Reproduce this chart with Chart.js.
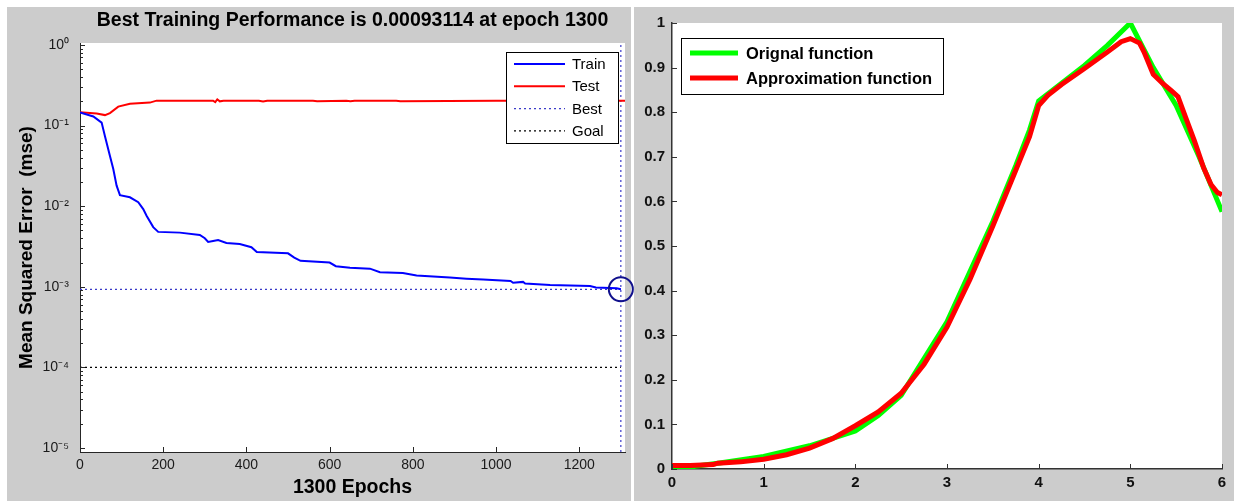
<!DOCTYPE html>
<html lang="en">
<head>
<meta charset="UTF-8">
<title>Training performance and function approximation</title>
<script src="https://cdn.jsdelivr.net/npm/chart.js"></script>
<style>
  body { margin: 0; background: #fff; width: 1234px; height: 501px; position: relative; overflow: hidden; }
  .panel { position: absolute; top: 7px; height: 494px; background: #cccccc; }
  #leftPanel { left: 7px; width: 624px; }
  #rightPanel { left: 634px; width: 600px; }
  #perfChart { position: absolute; left: 7px; top: 7px; z-index: 2; }
</style>
</head>
<body>
<div class="panel" id="leftPanel"></div>
<div class="panel" id="rightPanel"><canvas id="fitChart" width="600" height="494"></canvas></div>
<canvas id="perfChart" width="628" height="494"></canvas>

<script>
// ---- left panel: training performance ----
const trainEpochs = [0, 32, 52, 60, 72, 80, 88, 96, 120, 140, 152, 160, 176, 188, 240, 288, 300, 308, 320, 332, 352, 384, 412, 425, 500, 515, 530, 600, 615, 649, 697, 721, 776, 809, 889, 929, 969, 1035, 1041, 1065, 1070, 1130, 1226, 1240, 1290, 1300];
const trainMse = [0.146, 0.130, 0.109, 0.074, 0.042, 0.029, 0.018, 0.0137, 0.0129, 0.0112, 0.0092, 0.0076, 0.0055, 0.0048, 0.0047, 0.0044, 0.0040, 0.0036, 0.0037, 0.0038, 0.0035, 0.0034, 0.0031, 0.0027, 0.0026, 0.0023, 0.0021, 0.0020, 0.0018, 0.00172, 0.00168, 0.00152, 0.00148, 0.00138, 0.00130, 0.00126, 0.00123, 0.00118, 0.00112, 0.00115, 0.00110, 0.00105, 0.00102, 0.00098, 0.00096, 0.00093114];

const testEpochs = [0, 40, 60, 72, 92, 120, 168, 184, 320, 325, 330, 336, 345, 430, 440, 450, 560, 570, 640, 650, 660, 760, 770, 1000, 1310];
const testMse = [0.146, 0.141, 0.135, 0.143, 0.172, 0.187, 0.193, 0.204, 0.204, 0.196, 0.212, 0.200, 0.204, 0.204, 0.199, 0.204, 0.204, 0.200, 0.204, 0.200, 0.204, 0.204, 0.200, 0.204, 0.204];

const bestEpoch = 1300;
const bestPerf = 0.00093114;
const goalPerf = 1e-4;

const epochMin = 0, epochMax = 1310;
const mseMin = Math.pow(10, -5.05), mseMax = Math.pow(10, 0.025);
const epochTicks = [0, 200, 400, 600, 800, 1000, 1200];
const epochTickLabels = ['0', '200', '400', '600', '800', '1000', '1200'];
const mseTicks = [1e-5, 1e-4, 1e-3, 1e-2, 1e-1, 1];
const mseTickLabels = ['10\u207B\u2075', '10\u207B\u2074', '10\u207B\u00B3', '10\u207B\u00B2', '10\u207B\u00B9', '10\u2070'];

// ---- right panel: original vs approximation ----
const origX = [0, 0.15, 0.25, 0.5, 1, 1.5, 2, 2.25, 2.5, 3, 3.5, 3.75, 3.9, 4, 4.25, 4.5, 4.75, 5, 5.25, 5.5, 5.75, 6];
const origY = [0, 0, 0.006, 0.013, 0.028, 0.052, 0.085, 0.12, 0.165, 0.33, 0.555, 0.68, 0.76, 0.825, 0.865, 0.905, 0.95, 1.0, 0.9, 0.815, 0.7, 0.577];

const approxX = [0, 0.2, 0.45, 0.5, 0.75, 1, 1.25, 1.5, 1.75, 2, 2.25, 2.5, 2.75, 3, 3.25, 3.5, 3.75, 3.9, 4, 4.1, 4.25, 4.5, 4.75, 4.9, 5, 5.1, 5.15, 5.25, 5.35, 5.45, 5.52, 5.6, 5.7, 5.8, 5.88, 5.95, 6];
const approxY = [0.008, 0.008, 0.010, 0.013, 0.016, 0.022, 0.032, 0.047, 0.068, 0.097, 0.128, 0.170, 0.235, 0.318, 0.425, 0.545, 0.670, 0.745, 0.815, 0.838, 0.862, 0.898, 0.935, 0.958, 0.965, 0.955, 0.935, 0.885, 0.865, 0.848, 0.835, 0.79, 0.735, 0.675, 0.638, 0.62, 0.615];

const fitXTicks = [0, 1, 2, 3, 4, 5, 6];
const fitXLabels = ['0', '1', '2', '3', '4', '5', '6'];
const fitYTicks = [0, 0.1, 0.2, 0.3, 0.4, 0.5, 0.6, 0.7, 0.8, 0.9, 1];
const fitYLabels = ['0', '0.1', '0.2', '0.3', '0.4', '0.5', '0.6', '0.7', '0.8', '0.9', '1'];

const zip = (xs, ys) => xs.map((x, i) => ({x: x, y: ys[i]}));

// white plot area on the grey figure
const plotBg = {
  id: 'plotBg',
  beforeDraw(chart) {
    const {ctx, chartArea: a} = chart;
    ctx.save();
    ctx.fillStyle = '#fff';
    ctx.fillRect(a.left, a.top, a.right - a.left, a.bottom - a.top);
    ctx.restore();
  }
};

// matlab style ticks pointing into the plot
const innerTicks = {
  id: 'innerTicks',
  afterDatasetsDraw(chart, args, o) {
    const {ctx} = chart;
    const xs = chart.scales.x, ys = chart.scales.y;
    ctx.save();
    ctx.strokeStyle = o.color;
    ctx.lineWidth = 1;
    ctx.beginPath();
    xs.ticks.forEach(t => {
      const px = Math.round(xs.getPixelForValue(t.value)) + 0.5;
      ctx.moveTo(px, xs.top); ctx.lineTo(px, xs.top - o.len);
    });
    ys.ticks.forEach(t => {
      const py = Math.round(ys.getPixelForValue(t.value)) + 0.5;
      ctx.moveTo(ys.right, py); ctx.lineTo(ys.right + o.len, py);
    });
    (o.minorY || []).forEach(v => {
      const py = Math.round(ys.getPixelForValue(v)) + 0.5;
      ctx.moveTo(ys.right, py); ctx.lineTo(ys.right + o.minorLen, py);
    });
    ctx.stroke();
    ctx.restore();
  }
};

// boxed legend inside the axes
const boxLegend = {
  id: 'boxLegend',
  afterDraw(chart, args, o) {
    const {ctx, chartArea: a} = chart;
    const x0 = a.left + o.x, y0 = a.top + o.y;
    ctx.save();
    ctx.fillStyle = '#fff';
    ctx.fillRect(x0, y0, o.w, o.h);
    ctx.strokeStyle = '#000';
    ctx.lineWidth = 1;
    ctx.strokeRect(x0 + 0.5, y0 + 0.5, o.w, o.h);
    ctx.font = o.font;
    ctx.textBaseline = 'middle';
    o.items.forEach((idx, i) => {
      const ds = chart.data.datasets[idx];
      const cy = y0 + o.first + i * o.step;
      ctx.strokeStyle = ds.borderColor;
      ctx.lineWidth = o.lineWidth || ds.borderWidth;
      ctx.setLineDash(ds.borderDash || []);
      ctx.beginPath();
      ctx.moveTo(x0 + o.lx0, cy); ctx.lineTo(x0 + o.lx1, cy);
      ctx.stroke();
      ctx.setLineDash([]);
      ctx.fillStyle = '#000';
      ctx.fillText(ds.label, x0 + o.tx, cy + 1);
    });
    ctx.restore();
  }
};

const minorLogTicks = [];
for (let d = -5; d < 0; d++) {
  for (let k = 2; k <= 9; k++) minorLogTicks.push(k * Math.pow(10, d));
}

const sansFont = 'Arial, "Liberation Sans", sans-serif';
const narrowFont = '"Liberation Sans Narrow", "Arial Narrow", Arial, sans-serif';

new Chart(document.getElementById('perfChart'), {
  type: 'line',
  data: {
    datasets: [
      { label: 'Train', data: zip(trainEpochs, trainMse), borderColor: '#0000ff', borderWidth: 2, pointRadius: 0, order: 0 },
      { label: 'Test', data: zip(testEpochs, testMse), borderColor: '#ff0000', borderWidth: 2, pointRadius: 0, order: 1 },
      { label: 'Best', data: [{x: 0, y: bestPerf}, {x: bestEpoch, y: bestPerf}], borderColor: '#3a3ac8', borderWidth: 1.2, borderDash: [2, 3], pointRadius: 0, order: 2 },
      { label: 'Goal', data: [{x: 0, y: goalPerf}, {x: bestEpoch, y: goalPerf}], borderColor: '#000000', borderWidth: 1.2, borderDash: [2, 3], pointRadius: 0, order: 3 },
      { label: 'BestEpoch', data: [{x: bestEpoch, y: mseMin}, {x: bestEpoch, y: mseMax}], borderColor: '#3a3ac8', borderWidth: 1.2, borderDash: [2, 3], pointRadius: 0, order: 4 },
      { label: 'BestPoint', data: [{x: bestEpoch, y: bestPerf}], showLine: false, pointRadius: 12, pointBorderWidth: 2, pointBorderColor: '#10108c', pointBackgroundColor: 'rgba(0,0,0,0)', clip: false, order: -1 }
    ]
  },
  options: {
    responsive: false,
    animation: false,
    layout: { autoPadding: false, padding: { left: 0, right: 10, top: 0, bottom: 0 } },
    scales: {
      x: {
        type: 'linear', min: epochMin, max: epochMax,
        grid: { display: false, drawTicks: false },
        border: { display: true, color: '#262626', width: 1 },
        afterBuildTicks: s => { s.ticks = epochTicks.map(v => ({value: v})); },
        afterFit: s => { s.height = 49; },
        ticks: { padding: 5, color: '#1a1a1a', font: { family: sansFont, size: 14 }, autoSkip: false, maxRotation: 0,
          callback: (v, i) => epochTickLabels[i] },
        title: { display: true, text: '1300 Epochs', color: '#000', font: { family: sansFont, size: 19.5, weight: 'bold' }, padding: { top: 0, bottom: 1.3 } }
      },
      y: {
        type: 'logarithmic', min: mseMin, max: mseMax,
        grid: { display: false, drawTicks: false },
        border: { display: true, color: '#262626', width: 1 },
        afterBuildTicks: s => { s.ticks = mseTicks.map(v => ({value: v})); },
        afterFit: s => { s.width = 73; },
        ticks: { padding: 11, color: '#1a1a1a', font: { family: sansFont, size: 14 }, autoSkip: false,
          callback: (v, i) => mseTickLabels[i] },
        title: { display: true, text: 'Mean Squared Error  (mse)', color: '#000', font: { family: sansFont, size: 19, weight: 'bold' }, padding: { top: 8.6, bottom: 0 } }
      }
    },
    plugins: {
      legend: { display: false },
      tooltip: { enabled: false },
      title: {
        display: true, fullSize: false,
        text: 'Best Training Performance is 0.00093114 at epoch 1300',
        color: '#000', font: { family: sansFont, size: 19.5, weight: 'bold' },
        padding: { top: 2, bottom: 10.6 }
      },
      innerTicks: { color: '#262626', len: 5, minorLen: 3, minorY: minorLogTicks },
      boxLegend: {
        x: 426, y: 9, w: 112, h: 91, first: 12, step: 22.3,
        lx0: 8, lx1: 59, tx: 66,
        font: '15px ' + sansFont, items: [0, 1, 2, 3]
      }
    }
  },
  plugins: [plotBg, innerTicks, boxLegend]
});

new Chart(document.getElementById('fitChart'), {
  type: 'line',
  data: {
    datasets: [
      { label: 'Orignal function', data: zip(origX, origY), borderColor: '#00ff00', borderWidth: 5, pointRadius: 0, order: 1 },
      { label: 'Approximation function', data: zip(approxX, approxY), borderColor: '#ff0000', borderWidth: 5, pointRadius: 0, order: 0 }
    ]
  },
  options: {
    responsive: false,
    animation: false,
    layout: { autoPadding: false, padding: { left: 0, right: 12, top: 14, bottom: 0 } },
    scales: {
      x: {
        type: 'linear', min: 0, max: 6,
        grid: { display: false, drawTicks: false },
        border: { display: true, color: '#333', width: 1.5 },
        afterBuildTicks: s => { s.ticks = fitXTicks.map(v => ({value: v})); },
        afterFit: s => { s.height = 32; },
        ticks: { padding: 5, color: '#111', font: { family: narrowFont, size: 15, weight: 'bold' }, autoSkip: false, maxRotation: 0,
          callback: (v, i) => fitXLabels[i] }
      },
      y: {
        type: 'linear', min: 0, max: 1,
        grid: { display: false, drawTicks: false },
        border: { display: true, color: '#333', width: 1.5 },
        afterBuildTicks: s => { s.ticks = fitYTicks.map(v => ({value: v})); },
        afterFit: s => { s.width = 38; },
        ticks: { padding: 7, color: '#111', font: { family: narrowFont, size: 15, weight: 'bold' }, autoSkip: false,
          callback: (v, i) => fitYLabels[i] }
      }
    },
    plugins: {
      legend: { display: false },
      tooltip: { enabled: false },
      innerTicks: { color: '#333', len: 5, minorLen: 0 },
      boxLegend: {
        x: 9, y: 15, w: 262, h: 56, first: 15, step: 25,
        lx0: 9, lx1: 57, tx: 65, lineWidth: 5,
        font: 'bold 16.5px ' + narrowFont, items: [0, 1]
      }
    }
  },
  plugins: [plotBg, innerTicks, boxLegend]
});
</script>
</body>
</html>
